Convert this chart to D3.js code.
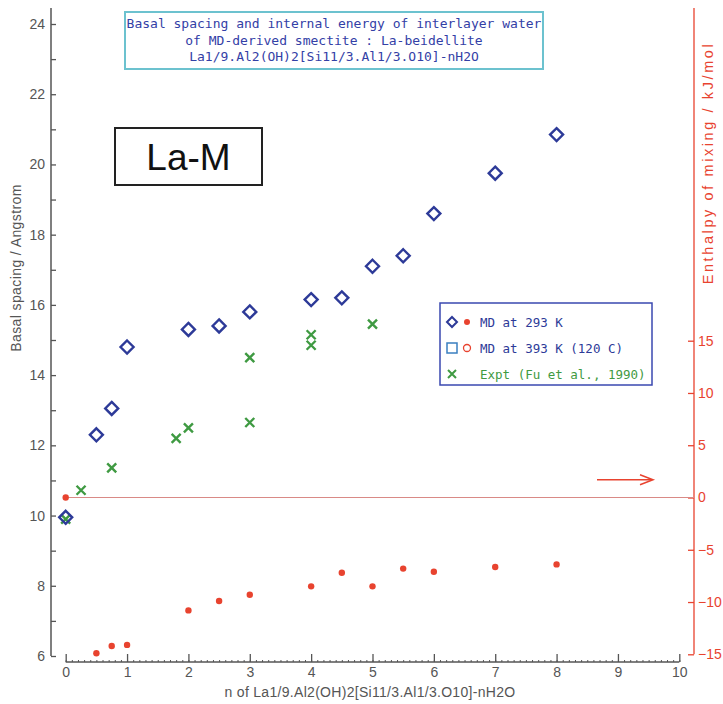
<!DOCTYPE html>
<html>
<head>
<meta charset="utf-8">
<script src="https://cdn.jsdelivr.net/npm/d3@7"></script>
<style>
  html, body { margin: 0; padding: 0; background: #fff; }
  svg { display: block; }
  .tick-lbl { font-family: "Liberation Sans", Arial, sans-serif; font-size: 14px; }
  .mono { font-family: "DejaVu Sans Mono", "Liberation Mono", monospace; }
</style>
</head>
<body>
<script>
// Water content n (molecules per formula unit) for the MD runs
const nMD = [0, 0.5, 0.75, 1, 2, 2.5, 3, 4, 4.5, 5, 5.5, 6, 7, 8];
// Basal spacing (Angstrom) from MD at 293 K
const spacingMD = [9.95, 12.3, 13.05, 14.8, 15.3, 15.4, 15.8, 16.15, 16.2, 17.1, 17.4, 18.6, 19.75, 20.85];
// Enthalpy of mixing (kJ/mol) from MD at 293 K
const enthalpyMD = [0, -14.9, -14.2, -14.1, -10.8, -9.9, -9.3, -8.5, -7.2, -8.5, -6.8, -7.1, -6.65, -6.4];
// Experimental basal spacings (Fu et al., 1990)
const nExpt = [0, 0.25, 0.75, 1.8, 2, 3, 3, 4, 4, 5];
const spacingExpt = [9.9, 10.72, 11.36, 12.2, 12.5, 12.65, 14.5, 14.85, 15.15, 15.45];

const xTicks = [0, 1, 2, 3, 4, 5, 6, 7, 8, 9, 10];
const leftTicks = [6, 8, 10, 12, 14, 16, 18, 20, 22, 24];
const rightTicks = [-15, -10, -5, 0, 5, 10, 15];

const titleLines = [
  "Basal spacing and internal energy of interlayer water",
  "of MD-derived smectite : La-beidellite",
  "La1/9.Al2(OH)2[Si11/3.Al1/3.O10]-nH2O"
];
const legendItems = [
  { key: "md293", label: "MD  at 293 K" },
  { key: "md393", label: "MD  at 393 K (120 C)" },
  { key: "expt", label: "Expt (Fu et al., 1990)" }
];

const W = 723, H = 704;
const BLUE = "#2d3a98", GREEN = "#3f9a42", RED = "#e8432f", GREY = "#555";

const svg = d3.select("body").append("svg").attr("width", W).attr("height", H);

const x = d3.scaleLinear().domain([0, 10]).range([65.7, 679.3]);
const yL = d3.scaleLinear().domain([6, 24]).range([656, 24]);
const yR = d3.scaleLinear().domain([-15, 15]).range([654.3, 340.7]);

const leftX = 51, rightX = 694, bottomY = 662, axisTop = 8;

// ---- left axis (basal spacing)
svg.append("line").attr("x1", leftX).attr("x2", leftX).attr("y1", axisTop).attr("y2", yL(6))
  .attr("stroke", GREY).attr("stroke-width", 1.5);
const gL = svg.append("g").attr("transform", `translate(${leftX},0)`)
  .call(d3.axisLeft(yL).tickValues(d3.range(6, 25, 1)).tickSize(-5).tickPadding(6)
    .tickFormat(d => leftTicks.includes(d) ? d : ""));
gL.select(".domain").remove();
gL.selectAll(".tick line").attr("stroke", GREY).attr("stroke-width", 1.3);
gL.selectAll(".tick text").attr("class", "tick-lbl").attr("fill", GREY);

svg.append("text").attr("class", "tick-lbl").attr("fill", GREY)
  .attr("transform", `translate(21,268) rotate(-90)`).attr("text-anchor", "middle")
  .style("font-size", "14px").style("letter-spacing", "0.4px").text("Basal spacing / Angstrom");

// ---- right axis (enthalpy)
svg.append("line").attr("x1", rightX).attr("x2", rightX).attr("y1", axisTop).attr("y2", yR(-15))
  .attr("stroke", RED).attr("stroke-width", 1.3);
const gR = svg.append("g").attr("transform", `translate(${rightX},0)`)
  .call(d3.axisRight(yR).tickValues(rightTicks).tickSize(-6).tickPadding(4));
gR.select(".domain").remove();
gR.selectAll(".tick line").attr("stroke", RED).attr("stroke-width", 1.3);
gR.selectAll(".tick text").attr("class", "tick-lbl").attr("fill", RED);

svg.append("text").attr("class", "tick-lbl").attr("fill", RED)
  .attr("transform", `translate(713,163) rotate(-90)`).attr("text-anchor", "middle")
  .style("font-size", "14.5px").style("letter-spacing", "2.6px").text("Enthalpy of mixing / kJ/mol");

// ---- bottom axis (water content)
const gB = svg.append("g").attr("transform", `translate(0,${bottomY})`);
gB.append("g").call(d3.axisBottom(x).tickValues(d3.range(0, 10.01, 0.1)).tickSize(-2).tickFormat(""))
  .call(g => { g.select(".domain").remove(); g.selectAll("line").attr("stroke", GREY); });
const gBm = gB.append("g").call(d3.axisBottom(x).tickValues(xTicks).tickSize(-8).tickPadding(5));
gBm.select(".domain").remove();
gBm.selectAll(".tick line").attr("stroke", GREY).attr("stroke-width", 1.3);
gBm.selectAll(".tick text").attr("class", "tick-lbl").attr("fill", GREY);
gB.append("line").attr("x1", x(0)).attr("x2", x(10)).attr("stroke", GREY).attr("stroke-width", 1.5);

svg.append("text").attr("class", "tick-lbl").attr("fill", GREY)
  .attr("x", 370).attr("y", 697).attr("text-anchor", "middle").style("font-size", "14px")
  .style("letter-spacing", "0.3px")
  .text("n of La1/9.Al2(OH)2[Si11/3.Al1/3.O10]-nH2O");

// ---- zero-enthalpy reference line
svg.append("line").attr("x1", x(0)).attr("x2", rightX).attr("y1", yR(0)).attr("y2", yR(0))
  .attr("stroke", "#d98a86").attr("stroke-width", 1.2);

// ---- arrow pointing to the enthalpy axis
const arrowY = yR(1.7);
svg.append("line").attr("x1", 597).attr("x2", 652).attr("y1", arrowY).attr("y2", arrowY)
  .attr("stroke", RED).attr("stroke-width", 1.5);
svg.append("path").attr("d", `M640,${arrowY - 5} L653,${arrowY} L640,${arrowY + 5}`)
  .attr("fill", "none").attr("stroke", RED).attr("stroke-width", 1.5);

// ---- markers
const diamond = (cx, cy, r) => `M${cx},${cy - r} L${cx + r},${cy} L${cx},${cy + r} L${cx - r},${cy} Z`;
const cross = (cx, cy, r) => `M${cx - r},${cy - r} L${cx + r},${cy + r} M${cx - r},${cy + r} L${cx + r},${cy - r}`;

svg.append("g").selectAll("path").data(nExpt.map((n, i) => [n, spacingExpt[i]])).join("path")
  .attr("d", d => cross(x(d[0]), yL(d[1]), 4.5))
  .attr("fill", "none").attr("stroke", GREEN).attr("stroke-width", 2.4);

svg.append("g").selectAll("path").data(nMD.map((n, i) => [n, spacingMD[i]])).join("path")
  .attr("d", d => diamond(x(d[0]), yL(d[1]), 6.5))
  .attr("fill", "none").attr("stroke", BLUE).attr("stroke-width", 2.4);

svg.append("g").selectAll("circle").data(nMD.map((n, i) => [n, enthalpyMD[i]])).join("circle")
  .attr("cx", d => x(d[0])).attr("cy", d => yR(d[1])).attr("r", 3.2).attr("fill", RED);

// ---- title box
svg.append("rect").attr("x", 125).attr("y", 12).attr("width", 418).attr("height", 57)
  .attr("fill", "#fff").attr("stroke", "#6cc2cf").attr("stroke-width", 2);
svg.append("g").selectAll("text").data(titleLines).join("text")
  .attr("class", "mono").attr("x", 334).attr("y", (d, i) => 28 + i * 16.5)
  .attr("text-anchor", "middle").attr("fill", "#3340a6").style("font-size", "13px").text(d => d);

// ---- La-M label
svg.append("rect").attr("x", 115).attr("y", 128).attr("width", 147).attr("height", 57)
  .attr("fill", "#fff").attr("stroke", "#222").attr("stroke-width", 2);
svg.append("text").attr("x", 188.5).attr("y", 170).attr("text-anchor", "middle")
  .style("font-family", "Liberation Sans, Arial, sans-serif").style("font-size", "37px")
  .attr("fill", "#111").text("La-M");

// ---- legend
const lg = svg.append("g");
lg.append("rect").attr("x", 440).attr("y", 303).attr("width", 212).attr("height", 82)
  .attr("fill", "#fff").attr("stroke", "#3a48b0").attr("stroke-width", 1.5);
const rowY = [322, 348, 374];
legendItems.forEach((it, i) => {
  const cy = rowY[i];
  if (it.key === "md293") {
    lg.append("path").attr("d", diamond(452, cy, 5)).attr("fill", "none").attr("stroke", BLUE).attr("stroke-width", 2);
    lg.append("circle").attr("cx", 467).attr("cy", cy).attr("r", 3).attr("fill", RED);
  } else if (it.key === "md393") {
    lg.append("rect").attr("x", 447).attr("y", cy - 5).attr("width", 10).attr("height", 10)
      .attr("fill", "none").attr("stroke", "#3a7fc0").attr("stroke-width", 1.5);
    lg.append("circle").attr("cx", 467).attr("cy", cy).attr("r", 3.5).attr("fill", "none").attr("stroke", RED).attr("stroke-width", 1.3);
  } else {
    lg.append("path").attr("d", cross(452, cy, 4)).attr("fill", "none").attr("stroke", GREEN).attr("stroke-width", 2);
  }
  lg.append("text").attr("class", "mono").attr("x", 480).attr("y", cy + 4.5)
    .attr("fill", it.key === "expt" ? GREEN : BLUE).style("font-size", "12.5px").text(it.label);
});
</script>
</body>
</html>
